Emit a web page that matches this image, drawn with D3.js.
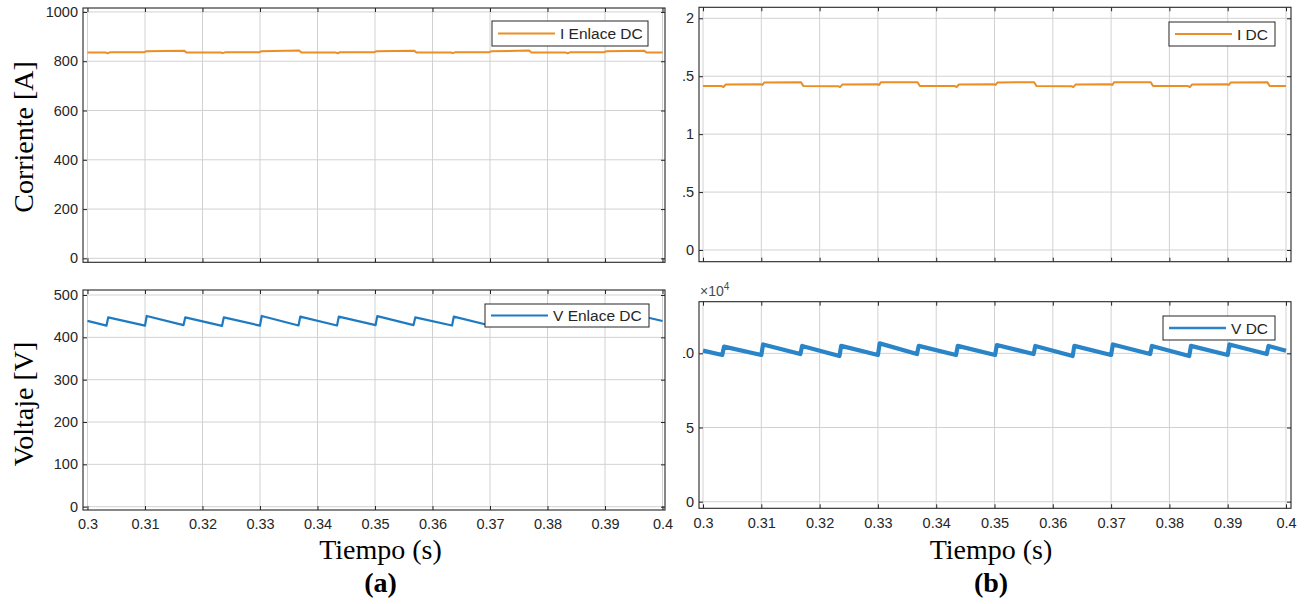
<!DOCTYPE html>
<html>
<head>
<meta charset="utf-8">
<script src="https://cdn.jsdelivr.net/npm/d3@7"></script>
<style>
  body { margin: 0; background: #fff; }
  svg { display: block; }
</style>
</head>
<body>
<svg id="fig" width="1308" height="604"></svg>
<script>
// ---------------- data ----------------
const timeTicks = [0.30, 0.31, 0.32, 0.33, 0.34, 0.35, 0.36, 0.37, 0.38, 0.39, 0.40];
const timeTickLabels = ["0.3", "0.31", "0.32", "0.33", "0.34", "0.35", "0.36", "0.37", "0.38", "0.39", "0.4"];

// DC-link current, panel (a) [A]
const iEnlaceT = [0.3000,
  0.3032, 0.3035, 0.3039, 0.3099, 0.3102, 0.3168, 0.3172,
  0.3232, 0.3235, 0.3239, 0.3299, 0.3302, 0.3368, 0.3372,
  0.3432, 0.3435, 0.3439, 0.3499, 0.3502, 0.3568, 0.3572,
  0.3632, 0.3635, 0.3639, 0.3699, 0.3702, 0.3768, 0.3772,
  0.3832, 0.3835, 0.3839, 0.3899, 0.3902, 0.3968, 0.3972,
  0.4000];
const iEnlaceV = [835.2,
  835.0, 832.6, 836.0, 836.6, 840.4, 843.0, 835.6,
  835.2, 832.8, 836.0, 836.6, 840.2, 843.2, 835.4,
  835.0, 832.6, 836.2, 836.8, 840.4, 843.0, 835.6,
  835.2, 832.8, 836.0, 836.6, 840.2, 843.2, 835.4,
  835.0, 832.6, 836.0, 836.6, 840.4, 843.0, 835.6,
  835.2];

// Charging instants of the DC-link capacitor (s)
const jumpT = [0.3033, 0.3100, 0.3167, 0.3234, 0.3300, 0.3367, 0.3434, 0.3501,
               0.3567, 0.3634, 0.3700, 0.3767, 0.3834, 0.3900, 0.3967];
const riseTime = 0.0003;

// DC-link voltage, panel (a) [V]
const vEnlaceStart = 439, vEnlaceEnd = 438.5;
const vEnlaceBefore = [427.6, 427.6, 429, 427, 427.6, 428, 428, 429, 429, 428, 428, 428, 428, 428, 428];
const vEnlaceAfter  = [447, 450.5, 447, 447, 450.5, 449, 449, 450, 447, 449, 450.5, 448, 448, 450.5, 448];

// DC current, panel (b)
const iDcT = [0.3000,
  0.3032, 0.3035, 0.3039, 0.3099, 0.3102, 0.3105, 0.3168, 0.3172,
  0.3232, 0.3235, 0.3239, 0.3299, 0.3302, 0.3305, 0.3368, 0.3372,
  0.3432, 0.3435, 0.3439, 0.3499, 0.3502, 0.3505, 0.3568, 0.3572,
  0.3632, 0.3635, 0.3639, 0.3699, 0.3702, 0.3705, 0.3768, 0.3772,
  0.3832, 0.3835, 0.3839, 0.3899, 0.3902, 0.3905, 0.3968, 0.3972,
  0.4000];
const iDcV = [1.416,
  1.415, 1.407, 1.429, 1.431, 1.425, 1.446, 1.449, 1.416,
  1.414, 1.406, 1.428, 1.431, 1.424, 1.447, 1.449, 1.415,
  1.415, 1.407, 1.429, 1.431, 1.425, 1.446, 1.448, 1.416,
  1.414, 1.406, 1.428, 1.431, 1.424, 1.447, 1.449, 1.415,
  1.415, 1.407, 1.429, 1.431, 1.425, 1.446, 1.449, 1.416,
  1.416];

// DC voltage, panel (b) [V]
const vDcStart = 101800, vDcEnd = 101800;
const vDcBefore = [98900, 98900, 99500, 98200, 98900, 99500, 98900, 98900, 99500, 98200, 98900, 99500, 98200, 98900, 99500];
const vDcAfter  = [104500, 106000, 105000, 105000, 106700, 105000, 105000, 105600, 105000, 105000, 106000, 105000, 105000, 106000, 105000];

// axis ticks
const currentTicksA = [0, 200, 400, 600, 800, 1000];
const voltageTicksA = [0, 100, 200, 300, 400, 500];
const currentTicksB = [0, 0.5, 1, 1.5, 2];
const currentTickLabelsB = ["0", "0.5", "1", "1.5", "2"];
const voltageTicksB = [0, 50000, 100000];
const voltageTickLabelsB = ["0", "5", "10"];

// ---------------- helpers ----------------
function pairs(ts, vs) { return ts.map((t, i) => [t, vs[i]]); }
function sawtooth(start, end, before, after) {
  const pts = [[0.3, start]];
  jumpT.forEach((t, i) => { pts.push([t, before[i]]); pts.push([t + riseTime, after[i]]); });
  pts.push([0.4, end]);
  return pts;
}

const ORANGE = "#EC8E23";
const BLUE = "#1F7BC1";
const BLUE_BAND = "#2A84C8";
const INK = "#262626";
const GRID = "#d2d2d2";
const SANS = "'Liberation Sans', Arial, Helvetica, sans-serif";
const SERIF = "'Liberation Serif', 'Times New Roman', serif";

const panels = [
  { id: "a1", box: [83, 8, 665, 262.3], xLim: [0.29922, 0.40043], yLim: [-16, 1016],
    yTicks: currentTicksA, yLabels: currentTicksA.map(String), xLabels: false,
    data: pairs(iEnlaceT, iEnlaceV), color: ORANGE, width: 2,
    legend: { name: "I Enlace DC", box: [492, 21, 648, 46] } },
  { id: "a2", box: [83, 290, 665, 510], xLim: [0.29922, 0.40043], yLim: [-7.8, 511.8],
    yTicks: voltageTicksA, yLabels: voltageTicksA.map(String), xLabels: true,
    data: sawtooth(vEnlaceStart, vEnlaceEnd, vEnlaceBefore, vEnlaceAfter), color: BLUE, width: 2.2,
    legend: { name: "V Enlace DC", box: [485, 304, 649, 327] } },
  { id: "b1", box: [699, 7.3, 1291, 261.7], xLim: [0.29931, 0.40086], yLim: [-0.101, 2.095],
    yTicks: currentTicksB, yLabels: currentTickLabelsB, xLabels: false, clip: true,
    data: pairs(iDcT, iDcV), color: ORANGE, width: 2,
    legend: { name: "I DC", box: [1169, 22, 1275, 46] } },
  { id: "b2", box: [699, 301.7, 1291, 508.3], xLim: [0.29931, 0.40086], yLim: [-4450, 134800],
    yTicks: voltageTicksB, yLabels: voltageTickLabelsB, xLabels: true, clip: true, exponent: "4",
    data: sawtooth(vDcStart, vDcEnd, vDcBefore, vDcAfter), color: BLUE_BAND, width: 4.2,
    legend: { name: "V DC", box: [1163, 316, 1275, 340] } }
];

const svg = d3.select("#fig");
const defs = svg.append("defs");
// panel (b) is cut on its left side
defs.append("clipPath").attr("id", "cut-b")
  .append("rect").attr("x", 683).attr("y", 0).attr("width", 625).attr("height", 604);

panels.forEach(p => {
  const [x0, y0, x1, y1] = p.box;
  const x = d3.scaleLinear().domain(p.xLim).range([x0, x1]);
  const y = d3.scaleLinear().domain(p.yLim).range([y1, y0]);
  const g = svg.append("g");
  if (p.clip) g.attr("clip-path", "url(#cut-b)");

  defs.append("clipPath").attr("id", "plot-" + p.id)
    .append("rect").attr("x", x0).attr("y", y0).attr("width", x1 - x0).attr("height", y1 - y0);

  // white plot background
  g.append("rect").attr("x", x0).attr("y", y0).attr("width", x1 - x0).attr("height", y1 - y0)
    .attr("fill", "#fff");

  // grid
  g.append("g").selectAll("line").data(timeTicks).join("line")
    .attr("x1", d => x(d)).attr("x2", d => x(d)).attr("y1", y0).attr("y2", y1)
    .attr("stroke", GRID).attr("stroke-width", 1);
  g.append("g").selectAll("line").data(p.yTicks).join("line")
    .attr("x1", x0).attr("x2", x1).attr("y1", d => y(d)).attr("y2", d => y(d))
    .attr("stroke", GRID).attr("stroke-width", 1);

  // data line
  g.append("path").datum(p.data)
    .attr("clip-path", `url(#plot-${p.id})`)
    .attr("fill", "none").attr("stroke", p.color).attr("stroke-width", p.width)
    .attr("stroke-linejoin", "round")
    .attr("d", d3.line().x(d => x(d[0])).y(d => y(d[1])));

  // axes with inward ticks on all four sides
  const styleAxis = sel => {
    sel.select(".domain").remove();
    sel.selectAll(".tick line").attr("stroke", INK);
    sel.selectAll(".tick text").attr("fill", INK).attr("font-family", SANS).attr("font-size", 14.5);
  };
  g.append("g").attr("transform", `translate(${x0},0)`)
    .call(d3.axisLeft(y).tickValues(p.yTicks).tickFormat((d, i) => p.yLabels[i])
      .tickSizeInner(-4).tickSizeOuter(0).tickPadding(5))
    .call(styleAxis);
  g.append("g").attr("transform", `translate(${x1},0)`)
    .call(d3.axisRight(y).tickValues(p.yTicks).tickFormat("").tickSizeInner(-4).tickSizeOuter(0))
    .call(styleAxis);
  g.append("g").attr("transform", `translate(0,${y1})`)
    .call(d3.axisBottom(x).tickValues(timeTicks)
      .tickFormat((d, i) => p.xLabels ? timeTickLabels[i] : "")
      .tickSizeInner(-4).tickSizeOuter(0).tickPadding(9))
    .call(styleAxis);
  g.append("g").attr("transform", `translate(0,${y0})`)
    .call(d3.axisTop(x).tickValues(timeTicks).tickFormat("").tickSizeInner(-4).tickSizeOuter(0))
    .call(styleAxis);

  // axes box
  g.append("rect").attr("x", x0).attr("y", y0).attr("width", x1 - x0).attr("height", y1 - y0)
    .attr("fill", "none").attr("stroke", INK).attr("stroke-width", 1.1);

  // exponent label
  if (p.exponent) {
    const t = g.append("text").attr("x", x0 + 1).attr("y", y0 - 6)
      .attr("font-family", SANS).attr("font-size", 14).attr("fill", "#4a4a4a");
    t.append("tspan").text("×10");
    t.append("tspan").attr("dy", -6).attr("font-size", 10).text(p.exponent);
  }

  // legend
  const [lx0, ly0, lx1, ly1] = p.legend.box;
  const lg = g.append("g");
  lg.append("rect").attr("x", lx0).attr("y", ly0).attr("width", lx1 - lx0).attr("height", ly1 - ly0)
    .attr("fill", "#fff").attr("stroke", INK).attr("stroke-width", 1);
  const ly = (ly0 + ly1) / 2;
  lg.append("line").attr("x1", lx0 + 6).attr("x2", lx0 + 63).attr("y1", ly).attr("y2", ly)
    .attr("stroke", p.color).attr("stroke-width", Math.min(p.width, 2.6));
  lg.append("text").attr("x", lx0 + 68).attr("y", ly).attr("dy", "0.36em")
    .attr("font-family", SANS).attr("font-size", 15.5).attr("fill", INK).text(p.legend.name);
});

// axis titles and panel captions
const serifText = (x, y, txt, opts = {}) => {
  const t = svg.append("text").attr("x", x).attr("y", y)
    .attr("font-family", SERIF).attr("font-size", opts.size || 28).attr("fill", "#000")
    .attr("text-anchor", "middle").text(txt);
  if (opts.bold) t.attr("font-weight", "bold");
  if (opts.rotate) t.attr("transform", `rotate(-90,${x},${y})`);
  return t;
};
serifText(33, 137, "Corriente [A]", { rotate: true });
serifText(33, 404, "Voltaje [V]", { rotate: true });
serifText(380.5, 559, "Tiempo (s)");
serifText(991, 559, "Tiempo (s)");
serifText(380.5, 592, "(a)", { bold: true, size: 28 });
serifText(991, 592, "(b)", { bold: true, size: 28 });
</script>
</body>
</html>
